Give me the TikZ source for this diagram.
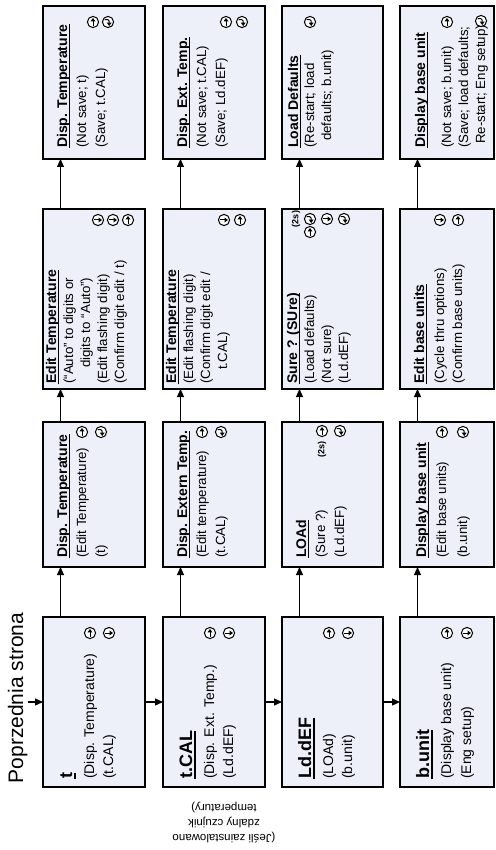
\documentclass[tikz,border=0pt]{standalone}
\usepackage{fontspec}
\setmainfont{Liberation Sans}
\usetikzlibrary{arrows.meta}
\definecolor{boxfill}{HTML}{EDF0F8}
\newcommand\bodyf{\fontsize{13.3}{15}\selectfont}
\newcommand\bodybigf{\fontsize{14}{16}\selectfont}
\newcommand\ttlf{\fontsize{14}{16}\selectfont\bfseries}
\newcommand\bigttlf{\fontsize{18}{20}\selectfont\bfseries}
\begin{document}
\begin{tikzpicture}[x=1pt,y=-1pt,
  box/.style={draw=black, line width=1.4pt, fill=boxfill, inner sep=0pt, outer sep=0pt, anchor=north west},
  txt/.style={rotate=90, anchor=base west, inner sep=0pt, font=\bodyf},
  txtb/.style={rotate=90, anchor=base west, inner sep=0pt, font=\bodybigf},
  ttl/.style={rotate=90, anchor=base west, inner sep=0pt, font=\ttlf},
  bigttl/.style={rotate=90, anchor=base west, inner sep=0pt, font=\bigttlf},
  twos/.style={rotate=90, anchor=center, inner sep=0pt, font=\fontsize{9}{10}\selectfont\bfseries},
  uline/.style={line width=1pt},
  biguline/.style={line width=1.6pt},
  arr/.style={line width=1.2pt, -{Triangle[length=8pt,width=7pt]}},
  kcirc/.style={draw=black, line width=1pt, fill=white},
  pics/kup/.style={code={
    \draw[kcirc] (0,0) circle[radius=5.6pt];
    \draw[line width=1pt] (0,3.6) -- (0,-0.8);
    \fill (0,-4) -- (-2.5,-0.6) -- (2.5,-0.6) -- cycle;}},
  pics/kright/.style={code={
    \draw[kcirc] (0,0) circle[radius=5.6pt];
    \draw[line width=1pt] (-3.6,0) -- (0.8,0);
    \fill (4,0) -- (0.6,-2.5) -- (0.6,2.5) -- cycle;}},
  pics/khook/.style={code={
    \draw[kcirc] (0,0) circle[radius=5.6pt];
    \draw[line width=1pt] (-3.4,-2.4) -- (-0.2,-2.4) .. controls (1.2,-2.4) .. (1.2,-1) -- (1.2,0.8);
    \fill (1.2,4) -- (-1.3,0.6) -- (3.7,0.6) -- cycle;}},
]
\useasboundingbox[fill=white] (0,0) rectangle (495,850);

% ---------- boxes ----------
\node[box, minimum width=102pt, minimum height=170pt] (b11) at (43,617) {};
\node[box, minimum width=102pt, minimum height=145pt] (b12) at (43,422) {};
\node[box, minimum width=102pt, minimum height=180pt] (b13) at (43,209) {};
\node[box, minimum width=102pt, minimum height=153pt] (b14) at (43,6) {};
\node[box, minimum width=102pt, minimum height=170pt] (b21) at (163,617) {};
\node[box, minimum width=102pt, minimum height=145pt] (b22) at (163,422) {};
\node[box, minimum width=102pt, minimum height=180pt] (b23) at (163,209) {};
\node[box, minimum width=102pt, minimum height=153pt] (b24) at (163,6) {};
\node[box, minimum width=101pt, minimum height=170pt] (b31) at (282,617) {};
\node[box, minimum width=101pt, minimum height=145pt] (b32) at (282,422) {};
\node[box, minimum width=101pt, minimum height=180pt] (b33) at (282,209) {};
\node[box, minimum width=101pt, minimum height=153pt] (b34) at (282,6) {};
\node[box, minimum width=94pt, minimum height=170pt] (b41) at (400,617) {};
\node[box, minimum width=94pt, minimum height=145pt] (b42) at (400,422) {};
\node[box, minimum width=94pt, minimum height=180pt] (b43) at (400,209) {};
\node[box, minimum width=94pt, minimum height=153pt] (b44) at (400,6) {};

% ---------- connectors ----------
\coordinate (pa) at (28,702);
\node[rotate=90, anchor=base, inner sep=0pt, font=\fontsize{21}{24}\selectfont] (prev) at (23,698) {Poprzednia strona};
\draw[arr] (pa) -- (b11.west);
\draw[arr] (b11.east) -- (b21.west);
\draw[arr] (b21.east) -- (b31.west);
\draw[arr] (b31.east) -- (b41.west);
\foreach \r in {1,2,3,4}{
  \draw[arr] ([xshift=17.5pt]b\r1.north west) -- ([xshift=17.5pt]b\r2.south west);
  \draw[arr] ([xshift=17.5pt]b\r2.north west) -- ([xshift=17.5pt]b\r3.south west);
  \draw[arr] ([xshift=17.5pt]b\r3.north west) -- ([xshift=17.5pt]b\r4.south west);
}

% ---------- row 1 ----------
\node[bigttl] (b11t) at (72,779) {t};
\node[txtb] (b11a) at (94,779) {(Disp. Temperature)};
\node[txtb] (b11b) at (113,779) {(t.CAL)};
\pic at (90,633) {kup};
\pic at (109,633) {kright};

\node[ttl] (b12t) at (67,558) {Disp. Temperature};
\node[txt] (b12a) at (86,558) {(Edit Temperature)};
\node[txt] (b12b) at (105,558) {(t)};
\pic at (82,432) {kup};
\pic at (101,432) {khook};

\node[ttl] (b13t) at (56,384) {Edit Temperature};
\node[txt] (b13a) at (73,384) {(“Auto” to digits or};
\node[txt] (b13b) at (90,368) {digits to “Auto”)};
\node[txt] (b13c) at (107,384) {(Edit flashing digit)};
\node[txt] (b13d) at (124,384) {(Confirm digit edit / t)};
\pic at (98,220) {kright};
\pic at (113,220) {kright};
\pic at (128,220) {kup};

\node[ttl] (b14t) at (67,148) {Disp. Temperature};
\node[txt] (b14a) at (86,148) {(Not save; t)};
\node[txt] (b14b) at (105,148) {(Save; t.CAL)};
\pic at (93,22) {kup};
\pic at (108,22) {khook};

% ---------- row 2 ----------
\node[bigttl] (b21t) at (192,779) {t.CAL};
\node[txtb] (b21a) at (214,779) {(Disp. Ext. Temp.)};
\node[txtb] (b21b) at (233,779) {(Ld.dEF)};
\pic at (210,633) {kup};
\pic at (229,633) {kright};

\node[ttl] (b22t) at (187,558) {Disp. Extern Temp.};
\node[txt] (b22a) at (206,558) {(Edit temperature)};
\node[txt] (b22b) at (225,558) {(t.CAL)};
\pic at (202,432) {kup};
\pic at (221,432) {khook};

\node[ttl] (b23t) at (176,384) {Edit Temperature};
\node[txt] (b23a) at (193,384) {(Edit flashing digit)};
\node[txt] (b23b) at (210,384) {(Confirm digit edit /};
\node[txt] (b23c) at (227,370) {t.CAL)};
\pic at (224,220) {kright};
\pic at (240,220) {kup};

\node[ttl] (b24t) at (187,148) {Disp. Ext. Temp.};
\node[txt] (b24a) at (206,148) {(Not save; t.CAL)};
\node[txt] (b24b) at (225,148) {(Save; Ld.dEF)};
\pic at (226,22) {kup};
\pic at (242,22) {khook};

% ---------- row 3 ----------
\node[bigttl] (b31t) at (311,779) {Ld.dEF};
\node[txtb] (b31a) at (333,779) {(LOAd)};
\node[txtb] (b31b) at (352,779) {(b.unit)};
\pic at (329,633) {kup};
\pic at (348,633) {kright};

\node[ttl] (b32t) at (306,558) {LOAd};
\node[txt] (b32a) at (325,558) {(Sure ?)};
\node[txt] (b32b) at (344,558) {(Ld.dEF)};
\node[twos] (b32s) at (322,449) {(2s)};
\pic at (322,431) {kup};
\pic at (340,431) {khook};

\node[ttl] (b33t) at (297,384) {Sure ? (SUre)};
\node[txt] (b33a) at (314,384) {(Load defaults)};
\node[txt] (b33b) at (331,384) {(Not sure)};
\node[txt] (b33c) at (348,384) {(Ld.dEF)};
\node[twos] (b33s) at (296,219) {(2s)};
\draw[line width=0.9pt] (310,226) -- (310,233);
\pic at (310,232) {kup};
\pic at (310,219) {khook};
\pic at (327,219) {kright};
\pic at (344,219) {khook};

\node[ttl] (b34t) at (298,148) {Load Defaults};
\node[txt] (b34a) at (314,148) {(Re-start; load};
\node[txt] (b34b) at (331,141) {defaults; b.unit)};
\pic at (310,22) {khook};

% ---------- row 4 ----------
\node[bigttl] (b41t) at (429,779) {b.unit};
\node[txtb] (b41a) at (451,779) {(Display base unit)};
\node[txtb] (b41b) at (471,779) {(Eng setup)};
\pic at (447,633) {kup};
\pic at (467,633) {kright};

\node[ttl] (b42t) at (426,558) {Display base unit};
\node[txt] (b42a) at (446,558) {(Edit base units)};
\node[txt] (b42b) at (467,558) {(b.unit)};
\pic at (442,432) {kup};
\pic at (463,432) {khook};

\node[ttl] (b43t) at (424,384) {Edit base units};
\node[txt] (b43a) at (444,384) {(Cycle thru options)};
\node[txt] (b43b) at (462,384) {(Confirm base units)};
\pic at (440,220) {kright};
\pic at (458,220) {kup};

\node[ttl] (b44t) at (425,148) {Display base unit};
\node[txt] (b44a) at (451,148) {(Not save; b.unit)};
\node[txt] (b44b) at (468,148) {(Save; load defaults;};
\node[txt] (b44c) at (485,144) {Re-start; Eng setup)};
\pic at (447,22) {kup};
\pic at (481,21) {khook};

% ---------- underlines ----------
\foreach \n in {b12t,b13t,b14t,b22t,b23t,b24t,b32t,b33t,b34t,b42t,b43t,b44t}{
  \draw[uline] ([xshift=2pt]\n.base west) -- ([xshift=2pt]\n.base east);
}
\foreach \n in {b11t,b21t,b31t,b41t}{
  \draw[biguline] ([xshift=2.8pt]\n.base west) -- ([xshift=2.8pt]\n.base east);
}

% ---------- note ----------
\node[rotate=180, align=center, inner sep=0pt, font=\fontsize{11.5}{15}\selectfont] (note) at (224,823) {(Jeśli zainstalowano\\zdalny czujnik\\temperatury)};
\end{tikzpicture}
\end{document}
